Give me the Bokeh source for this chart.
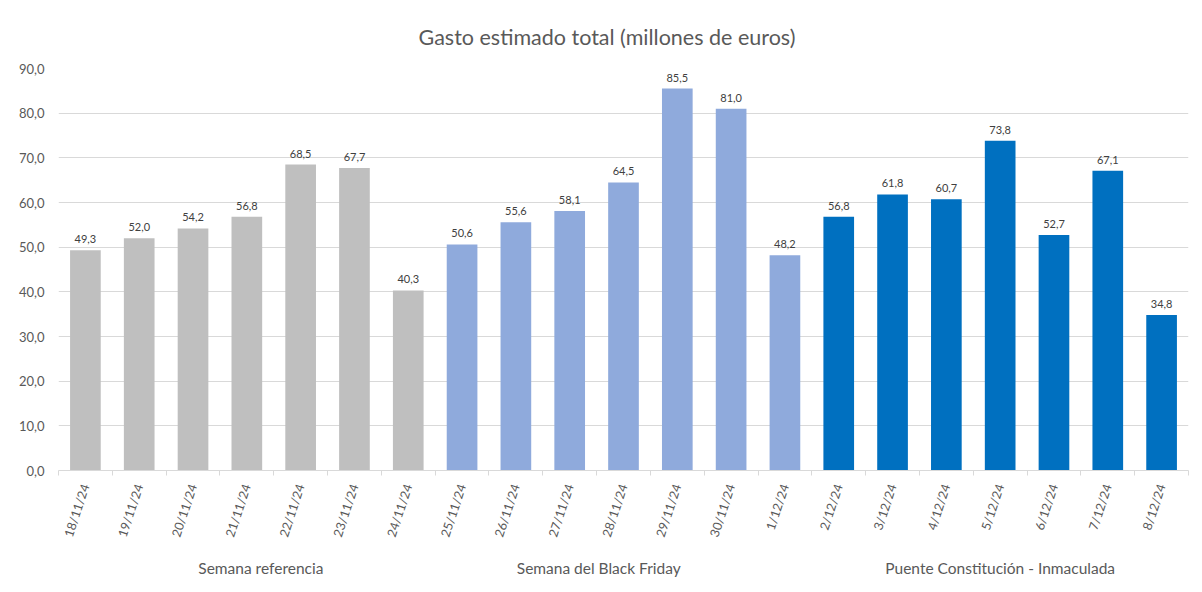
from bokeh.plotting import figure
from bokeh.models import Range1d, FixedTicker, LinearAxis, ColumnDataSource, Title
from bokeh.core.properties import value
from bokeh.embed import file_html
from bokeh.resources import INLINE

# ---- data ----
title_text = "Gasto estimado total (millones de euros)"
dates = ["18/11/24", "19/11/24", "20/11/24", "21/11/24", "22/11/24", "23/11/24", "24/11/24",
         "25/11/24", "26/11/24", "27/11/24", "28/11/24", "29/11/24", "30/11/24", "1/12/24",
         "2/12/24", "3/12/24", "4/12/24", "5/12/24", "6/12/24", "7/12/24", "8/12/24"]
groups = ["Semana referencia", "Semana del Black Friday", "Puente Constitución - Inmaculada"]
group_sizes = [7, 7, 7]
values_ref = [49.3, 52.0, 54.2, 56.8, 68.5, 67.7, 40.3]
values_bf = [50.6, 55.6, 58.1, 64.5, 85.5, 81.0, 48.2]
values_puente = [56.8, 61.8, 60.7, 73.8, 52.7, 67.1, 34.8]
group_colors = ["#BFBFBF", "#8FAADC", "#0070C0"]
y_ticks = [0, 10, 20, 30, 40, 50, 60, 70, 80, 90]

FONT = "Lato"
TXT = "#595959"
GRID = "#D9D9D9"

def fmt(v):
    return f"{v:.1f}".replace(".", ",")

values = values_ref + values_bf + values_puente
n = len(dates)
centers = [i + 0.5 for i in range(n)]
colors = []
for g, size in enumerate(group_sizes):
    colors += [group_colors[g]] * size

src = ColumnDataSource(dict(x=centers, top=values, color=colors,
                            lab=[fmt(v) for v in values]))

p = figure(width=1194, height=584, output_backend="svg", toolbar_location=None,
           x_range=Range1d(0, n), y_range=Range1d(y_ticks[0], y_ticks[-1]),
           min_border_left=58, min_border_right=6, min_border_top=68, min_border_bottom=114)
p.outline_line_color = None
p.background_fill_color = "white"
p.border_fill_color = "white"

p.vbar(x="x", top="top", width=0.57, bottom=0, color="color", line_color=None, source=src)
p.text(x="x", y="top", text="lab", source=src, text_align="center", text_baseline="bottom",
       y_offset=-7, text_font=value(FONT), text_font_size="11px", text_color="#404040")

# y axis
p.yaxis.ticker = FixedTicker(ticks=y_ticks)
p.yaxis.major_label_overrides = {t: fmt(t) for t in y_ticks}
p.yaxis.axis_line_color = None
p.yaxis.major_tick_line_color = None
p.yaxis.major_tick_out = 0
p.yaxis.major_tick_in = 0
p.yaxis.minor_tick_line_color = None
p.yaxis.major_label_text_font = FONT
p.yaxis.major_label_text_font_size = "13px"
p.yaxis.major_label_text_color = TXT
p.yaxis.major_label_standoff = 14
p.ygrid.grid_line_color = GRID
p.ygrid.grid_line_width = 1
p.xgrid.grid_line_color = None

# x axis (dates)
p.xaxis.ticker = FixedTicker(ticks=centers, minor_ticks=list(range(n + 1)))
p.xaxis.major_label_overrides = {c: d for c, d in zip(centers, dates)}
p.xaxis.major_label_orientation = 1.25
p.xaxis.major_tick_out = 0
p.xaxis.major_tick_in = 0
p.xaxis.minor_tick_out = 5
p.xaxis.minor_tick_in = 0
p.xaxis.minor_tick_line_color = GRID
p.xaxis.axis_line_color = GRID
p.xaxis.major_label_text_font = FONT
p.xaxis.major_label_text_font_size = "12.5px"
p.xaxis.major_label_text_color = TXT
p.xaxis.major_label_standoff = 9

# group axis
group_shift = [0.26, -0.46, 0.0]
group_pos = []
start = 0
for g, size in enumerate(group_sizes):
    group_pos.append(start + size / 2 + group_shift[g])
    start += size
gaxis = LinearAxis(ticker=FixedTicker(ticks=group_pos),
                   major_label_overrides={gp: gname for gp, gname in zip(group_pos, groups)})
gaxis.axis_line_color = None
gaxis.major_tick_line_color = None
gaxis.major_tick_out = 0
gaxis.major_tick_in = 0
gaxis.minor_tick_line_color = None
gaxis.major_label_text_font = FONT
gaxis.major_label_text_font_size = "15.5px"
gaxis.major_label_text_color = TXT
gaxis.major_label_standoff = 14
p.add_layout(gaxis, "below")

# title
p.title = Title(text=title_text, align="left", offset=360, standoff=37,
                text_font=FONT, text_font_size="21.5px", text_color=TXT,
                text_font_style="normal")

open("out.html", "w").write(file_html(p, INLINE))
